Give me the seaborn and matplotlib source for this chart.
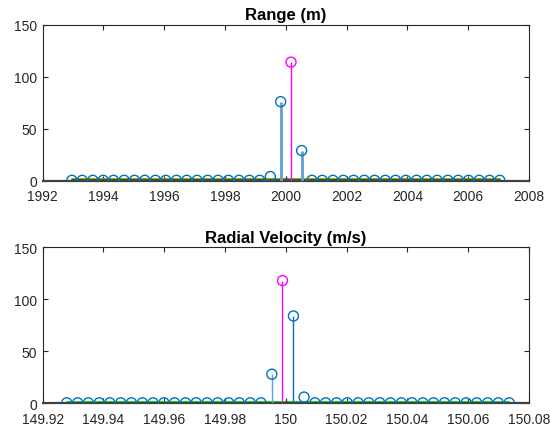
import numpy as np
import pandas as pd
import matplotlib
matplotlib.use("Agg")
import matplotlib.pyplot as plt
import seaborn as sns
from matplotlib.ticker import FuncFormatter

# ---------------- data ----------------
range_x = [1992.96, 1993.30, 1993.65, 1993.99, 1994.33, 1994.68, 1995.02, 1995.36,
           1995.71, 1996.05, 1996.40, 1996.74, 1997.08, 1997.43, 1997.77, 1998.11,
           1998.46, 1998.80, 1999.14, 1999.49, 1999.83, 2000.17, 2000.52, 2000.86,
           2001.20, 2001.55, 2001.89, 2002.23, 2002.58, 2002.92, 2003.27, 2003.61,
           2003.95, 2004.30, 2004.64, 2004.98, 2005.33, 2005.67, 2006.01, 2006.36,
           2006.70, 2007.04]
range_y = [0.4] * 19 + [4.0, 76.0, 114.0, 29.0] + [0.4] * 19
range_peak_idx = 21
range_stem_idx = [20, 22]
range_truth_x = [2000.0]
range_truth_y = [5.0]

vel_x = [149.9279, 149.9315, 149.9350, 149.9386, 149.9421, 149.9457, 149.9492, 149.9528,
         149.9563, 149.9599, 149.9634, 149.9670, 149.9705, 149.9741, 149.9776, 149.9812,
         149.9847, 149.9883, 149.9918, 149.9954, 149.9989, 150.0025, 150.0060, 150.0096,
         150.0131, 150.0167, 150.0202, 150.0238, 150.0273, 150.0309, 150.0344, 150.0380,
         150.0415, 150.0451, 150.0486, 150.0522, 150.0557, 150.0593, 150.0628, 150.0664,
         150.0699, 150.0735]
vel_y = [0.5] * 19 + [28.0, 118.0, 84.0, 6.0] + [0.5] * 19
vel_peak_idx = 20
vel_stem_light_idx = [19]
vel_stem_dark_idx = [21]
vel_truth_x = [150.0]
vel_truth_y = [4.0]

range_xticks = [1992, 1994, 1996, 1998, 2000, 2002, 2004, 2006, 2008]
vel_xticks = [149.92, 149.94, 149.96, 149.98, 150.0, 150.02, 150.04, 150.06, 150.08]
yticks = [0, 50, 100, 150]

# ---------------- style ----------------
sns.set_theme(style="white")
plt.rcParams["font.family"] = ["Liberation Sans", "DejaVu Sans"]
plt.rcParams["axes.edgecolor"] = "#262626"
plt.rcParams["xtick.color"] = "#262626"
plt.rcParams["ytick.color"] = "#262626"

BLUE = "#0072BD"
LIGHT = "#5AA0D6"
MAG = "#FF00FF"

fig = plt.figure(figsize=(5.5, 4.31), dpi=100)
ax1 = fig.add_axes([0.0776, 0.5784, 0.8842, 0.3620])
ax2 = fig.add_axes([0.0776, 0.0619, 0.8842, 0.3620])


def style_axes(ax, xlim, xticks, title):
    ax.set_xlim(*xlim)
    ax.set_ylim(0, 150)
    ax.set_xticks(xticks)
    ax.set_yticks(yticks)
    ax.tick_params(direction="in", length=3.6, width=0.8, labelsize=10,
                   top=True, right=True, bottom=True, left=True)
    ax.tick_params(axis="x", pad=6)
    ax.tick_params(axis="y", pad=4)
    for s in ax.spines.values():
        s.set_linewidth(0.8)
        s.set_color("#262626")
    ax.spines["bottom"].set_linewidth(1.6)
    ax.spines["bottom"].set_color("#404040")
    ax.set_title(title, fontsize=12, fontweight="bold", color="black", pad=4)
    ax.set_xlabel("")
    ax.set_ylabel("")


def draw(ax, xs, ys, peak_idx, stems, truth_x, truth_y):
    # baseline lines (threshold-like)
    ax.plot([xs[0], xs[-1]], [1.6, 1.6], color="#00E000", lw=1.3, zorder=2)
    ax.plot([xs[0], xs[-1]], [0.3, 0.3], color="#D01010", lw=1.3, zorder=2.1)
    # truth ticks
    ax.vlines(truth_x, 0, truth_y, color="#404040", lw=1.0, zorder=2.5)
    # stems
    for idx, col, lw in stems:
        ax.vlines([xs[i] for i in idx], 0, [ys[i] for i in idx], color=col, lw=lw, zorder=3)
    ax.vlines([xs[peak_idx]], 0, [ys[peak_idx]], color=MAG, lw=1.0, zorder=3)
    df = pd.DataFrame({"x": xs, "y": ys})
    others = df.drop(index=peak_idx)
    sns.scatterplot(data=others, x="x", y="y", ax=ax, marker="o", s=52,
                    facecolors="none", edgecolor=BLUE, linewidth=1.0, zorder=4)
    sns.scatterplot(data=df.iloc[[peak_idx]], x="x", y="y", ax=ax, marker="o", s=52,
                    facecolors="none", edgecolor=MAG, linewidth=1.0, zorder=4)


draw(ax1, range_x, range_y, range_peak_idx, [(range_stem_idx, LIGHT, 2.0)],
     range_truth_x, range_truth_y)
style_axes(ax1, (1992, 2008), range_xticks, "Range (m)")

draw(ax2, vel_x, vel_y, vel_peak_idx,
     [(vel_stem_light_idx, LIGHT, 1.0), (vel_stem_dark_idx, BLUE, 1.0)],
     vel_truth_x, vel_truth_y)
style_axes(ax2, (149.92, 150.08), vel_xticks, "Radial Velocity (m/s)")
ax2.xaxis.set_major_formatter(FuncFormatter(lambda v, p: "%g" % round(v, 4)))

fig.savefig("out.png", dpi=100)
